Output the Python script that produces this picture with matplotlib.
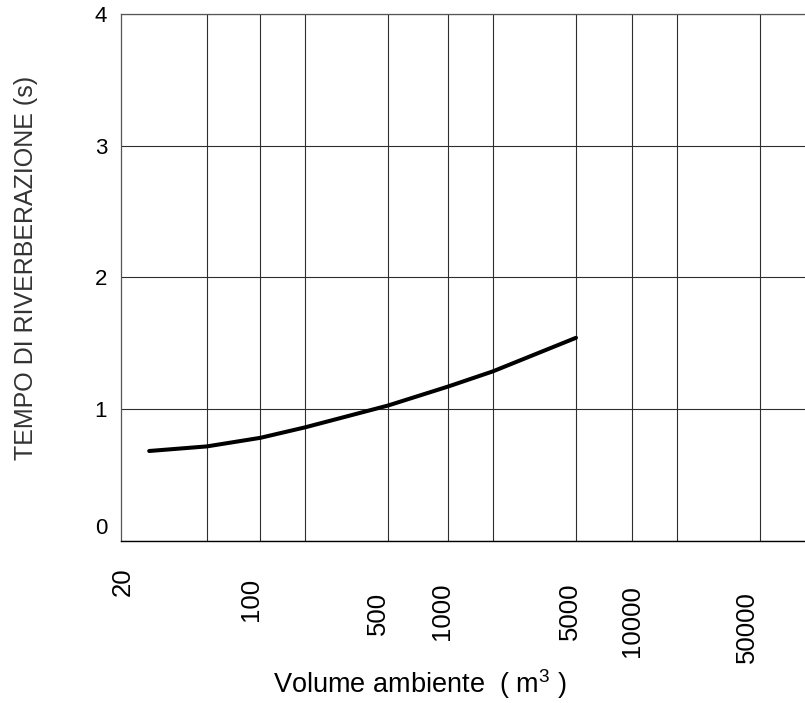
import numpy as np
import matplotlib
matplotlib.use("Agg")
import matplotlib.pyplot as plt

plt.rcParams['font.family'] = ['Liberation Sans', 'DejaVu Sans']
plt.rcParams['mathtext.fontset'] = 'custom'
plt.rcParams['mathtext.rm'] = 'Liberation Sans'
plt.rcParams['mathtext.default'] = 'regular'

# ---- data ----
volume = [27, 50, 100, 200, 500, 1000, 2000, 5000]          # m^3
rev_time = [0.68, 0.715, 0.78, 0.86, 1.025, 1.17, 1.285, 1.54]  # s

x_tick_values = [20, 100, 500, 1000, 5000, 10000, 50000]
x_tick_labels = ['20', '100', '500', '1000', '5000', '10000', '50000']
x_grid_values = [50, 100, 200, 500, 1000, 2000, 5000, 10000, 20000, 50000]
y_ticks = [0, 1, 2, 3, 4]

# ---- axis calibration of the (hand-drawn, quasi-logarithmic) x scale ----
SCALE_VALUES = [20, 50, 100, 200, 500, 1000, 2000, 5000, 10000, 20000, 50000, 100000]
SCALE_FRAC = [0, 0.1257, 0.2037, 0.2694, 0.3901, 0.4784, 0.5437, 0.6652, 0.7477, 0.8133, 0.9342, 1.0]
_logv = np.log10(SCALE_VALUES)


def fwd(x):
    x = np.asarray(x, dtype=float)
    return np.interp(np.log10(np.clip(x, 1e-9, None)), _logv, SCALE_FRAC)


def inv(y):
    y = np.asarray(y, dtype=float)
    return 10 ** np.interp(y, SCALE_FRAC, _logv)


# label layout offsets (pixels) for the staggered x tick labels
label_dx = [2, -9, -10, -6, -6, 0, -13]
label_dy = [-41.5, -58.5, -72.5, -71, -71, -80.5, -86.5]

fig = plt.figure(figsize=(8.05, 7.03), dpi=100)
ax = fig.add_axes([121 / 805, 1 - 540.5 / 703, 684 / 805, 526.5 / 703])

ax.set_xscale('function', functions=(fwd, inv))
ax.set_xlim(20, 100000)
ax.set_ylim(0, 4)

ax.plot(volume, rev_time, color='black', lw=2.9, solid_capstyle='round',
        solid_joinstyle='round', zorder=3)

ax.set_xticks(x_grid_values)
ax.set_xticklabels([])
ax.xaxis.set_minor_locator(matplotlib.ticker.NullLocator())
ax.set_yticks(y_ticks)
ax.set_yticklabels([''] + [str(v) for v in y_ticks[1:]])
ax.tick_params(axis='both', length=0)
ax.tick_params(axis='y', labelsize=16, pad=10)
ax.grid(True, color='#2e2e2e', lw=0.8)

for sp in ['left', 'top']:
    ax.spines[sp].set_color('#555555')
    ax.spines[sp].set_linewidth(0.9)
ax.spines['bottom'].set_color('black')
ax.spines['bottom'].set_linewidth(1.0)
ax.spines['right'].set_visible(False)

# "0" label sits a little above its gridline in the original
ax.annotate(str(y_ticks[0]), xy=(0, y_ticks[0]), xycoords=('axes fraction', 'data'),
            xytext=(-14, 12), textcoords='offset pixels', ha='right', va='center',
            fontsize=16)

for v, lab, dx, dy in zip(x_tick_values, x_tick_labels, label_dx, label_dy):
    ax.annotate(lab, xy=(v, 0), xycoords=('data', 'axes fraction'),
                xytext=(dx, dy), textcoords='offset pixels',
                ha='center', va='center', rotation=90, fontsize=18.5,
                annotation_clip=False)

ax.set_xlabel(r'Volume ambiente  ( m$^3$ )', fontsize=19.5)
ax.xaxis.set_label_coords((420 - 121) / 684, (540.5 - 693) / 526.5)
ax.xaxis.label.set_va('baseline')
ax.xaxis.label.set_ha('center')

ax.set_ylabel('TEMPO DI RIVERBERAZIONE (s)', fontsize=18, color='#333333')
ax.yaxis.set_label_coords((26 - 121) / 684, (540.5 - 268) / 526.5)
ax.yaxis.label.set_va('center')

fig.savefig('out.png', dpi=100)
